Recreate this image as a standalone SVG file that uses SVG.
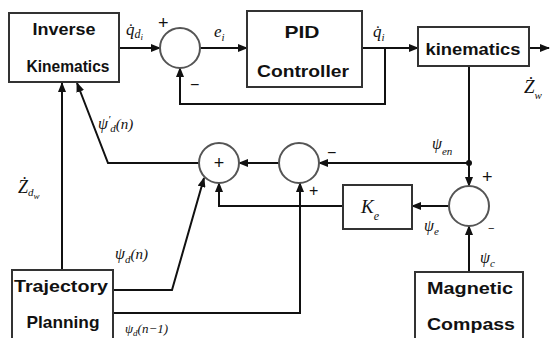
<svg xmlns="http://www.w3.org/2000/svg" width="550" height="338" viewBox="0 0 550 338">
<defs>
<marker id="arr" markerUnits="userSpaceOnUse" markerWidth="10" markerHeight="8" refX="9" refY="4" orient="auto">
<path d="M0,0 L10,4 L0,8 z" fill="#111"/>
</marker>
<style>
.box{fill:#fff;stroke:#333;stroke-width:2}
.sum{fill:#fff;stroke:#555;stroke-width:2}
.lbl{font-family:"Liberation Sans",Arial,sans-serif;font-weight:bold;font-size:17px;fill:#111;text-anchor:middle}
.m{font-family:"Liberation Serif","Times New Roman",serif;font-style:italic;fill:#111}
.sg{font-family:"Liberation Sans",Arial,sans-serif;fill:#111}
.ln{fill:none;stroke:#111;stroke-width:2}
.ar{fill:none;stroke:#111;stroke-width:2;marker-end:url(#arr)}
</style>
</defs>
<rect width="550" height="338" fill="#fff"/>

<g id="connectors">
<line class="ar" x1="119" y1="48" x2="160" y2="48"/>
<line class="ar" x1="200" y1="48" x2="247" y2="48"/>
<line class="ar" x1="362" y1="48" x2="418" y2="48"/>
<polyline class="ar" points="385,48 385,104 180,104 180,68"/>
<line class="ar" x1="529" y1="48" x2="549" y2="48"/>
<polyline class="ar" points="469,66 469,163 469,186"/>
<circle cx="469" cy="163" r="3" fill="#111"/>
<line class="ar" x1="469" y1="163" x2="319" y2="163"/>
<line class="ar" x1="279" y1="163" x2="239" y2="163"/>
<polyline class="ar" points="199,163 108,163 77,83"/>
<line class="ar" x1="62" y1="270" x2="62" y2="83"/>
<polyline class="ar" points="113,290 172,290 204,178"/>
<polyline class="ar" points="113,313 300,313 300,183"/>
<line class="ar" x1="450" y1="206" x2="412" y2="206"/>
<polyline class="ar" points="343,206 219,206 219,183"/>
<line class="ar" x1="469" y1="272" x2="469" y2="226"/>
</g>

<g id="inverse-kinematics">
<rect class="box" x="9" y="13" width="110" height="69"/>
<text class="lbl" x="64" y="35" textLength="63" lengthAdjust="spacingAndGlyphs">Inverse</text>
<text class="lbl" x="68" y="72" textLength="83" lengthAdjust="spacingAndGlyphs">Kinematics</text>
</g>

<g id="sum1">
<circle class="sum" cx="180" cy="48" r="20"/>
</g>

<g id="pid-controller">
<rect class="box" x="247" y="11" width="115" height="76"/>
<text class="lbl" x="302" y="38" textLength="35" lengthAdjust="spacingAndGlyphs">PID</text>
<text class="lbl" x="303" y="77" textLength="92" lengthAdjust="spacingAndGlyphs">Controller</text>
</g>

<g id="kinematics">
<rect class="box" x="418" y="27" width="111" height="39"/>
<text class="lbl" x="473" y="55" textLength="95" lengthAdjust="spacingAndGlyphs">kinematics</text>
</g>

<g id="sum2">
<circle class="sum" cx="219" cy="163" r="20"/>
<text class="sg" x="219" y="169" font-size="18" text-anchor="middle">+</text>
</g>

<g id="sum3">
<circle class="sum" cx="299" cy="163" r="20"/>
</g>

<g id="sum4">
<circle class="sum" cx="469" cy="206" r="20"/>
</g>

<g id="ke">
<rect class="box" x="343" y="185" width="69" height="44"/>
<text class="m" x="361" y="213" font-size="19">K<tspan font-size="12" dy="7">e</tspan></text>
</g>

<g id="trajectory-planning">
<rect class="box" x="12" y="270" width="101" height="70"/>
<text class="lbl" x="61" y="292" textLength="94" lengthAdjust="spacingAndGlyphs">Trajectory</text>
<text class="lbl" x="63" y="328" textLength="73" lengthAdjust="spacingAndGlyphs">Planning</text>
</g>

<g id="magnetic-compass">
<rect class="box" x="415" y="272" width="108" height="68"/>
<text class="lbl" x="470" y="294" textLength="86" lengthAdjust="spacingAndGlyphs">Magnetic</text>
<text class="lbl" x="471" y="330" textLength="88" lengthAdjust="spacingAndGlyphs">Compass</text>
</g>

<g id="labels">
<text class="m" x="126" y="35" font-size="17">q̇<tspan font-size="12" dy="3">d</tspan><tspan font-size="9" dy="2">i</tspan></text>
<text class="sg" x="158" y="29" font-size="18">+</text>
<text class="sg" x="190" y="90" font-size="16">−</text>
<text class="m" x="214" y="37" font-size="17">e<tspan font-size="11" dy="4">i</tspan></text>
<text class="m" x="373" y="37" font-size="17">q̇<tspan font-size="11" dy="4">i</tspan></text>
<text class="m" x="524" y="93" font-size="19">Ż<tspan font-size="11" dy="6">w</tspan></text>
<text class="m" x="98" y="129" font-size="16">ψ<tspan font-size="11" dy="-6">′</tspan><tspan font-size="11" dy="9">d</tspan><tspan font-size="15" dy="-3">(n)</tspan></text>
<text class="m" x="18" y="193" font-size="18">Ż<tspan font-size="11" dy="3">d</tspan><tspan font-size="9" dy="3">w</tspan></text>
<text class="m" x="432" y="149" font-size="16">ψ<tspan font-size="11" dy="6">en</tspan></text>
<text class="sg" x="327" y="158" font-size="16">−</text>
<text class="sg" x="309" y="196" font-size="16">+</text>
<text class="sg" x="482" y="183" font-size="18">+</text>
<text class="sg" x="488" y="232" font-size="11">−</text>
<text class="m" x="424" y="231" font-size="16">ψ<tspan font-size="11" dy="4">e</tspan></text>
<text class="m" x="480" y="263" font-size="16">ψ<tspan font-size="11" dy="4">c</tspan></text>
<text class="m" x="115" y="259" font-size="16">ψ<tspan font-size="11" dy="4">d</tspan><tspan font-size="15" dy="-4">(n)</tspan></text>
<text class="m" x="125" y="333" font-size="13">ψ<tspan font-size="9" dy="3">d</tspan><tspan font-size="13" dy="-3">(n−1)</tspan></text>
</g>
</svg>
